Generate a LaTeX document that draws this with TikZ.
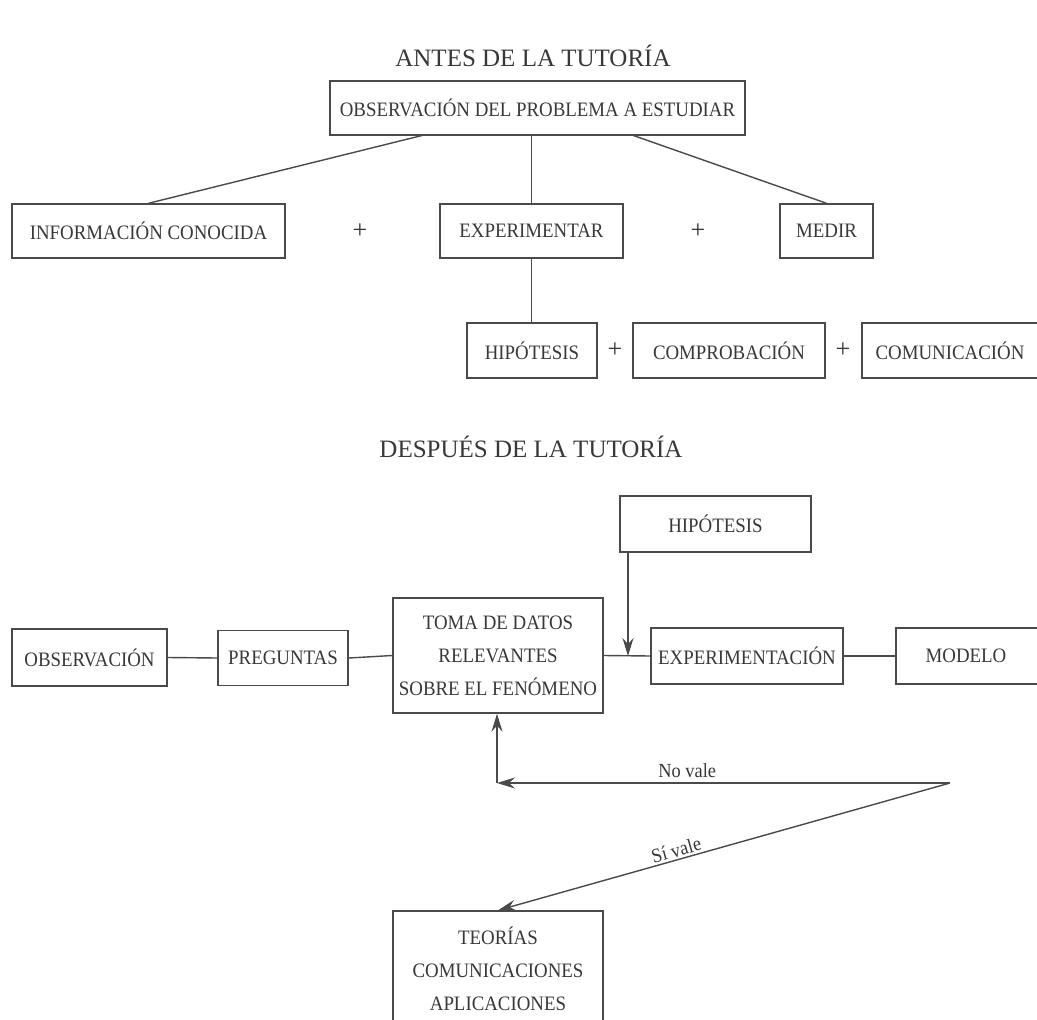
\documentclass[tikz,border=0pt]{standalone}
\usepackage{fontspec}
\setmainfont{Liberation Serif}
\newfontfamily\bxfont{Liberation Serif}[FakeStretch=0.92]
\usetikzlibrary{arrows.meta}
\definecolor{ink}{HTML}{383838}
\definecolor{lin}{HTML}{4A4A4A}
\begin{document}
\begin{tikzpicture}[x=1pt,y=-1pt,
  box/.style={draw=lin, line width=1.4pt, text=ink, inner sep=0pt,
    font=\bxfont\fontsize{20.5}{33}\selectfont, align=center},
  ttl/.style={text=ink, font=\fontsize{25}{30}\selectfont, inner sep=0pt},
  plus/.style={text=ink, font=\fontsize{26}{30}\selectfont, inner sep=0pt},
  lbl/.style={text=ink, font=\bxfont\fontsize{20}{24}\selectfont, inner sep=2pt},
  conn/.style={draw=lin, line width=1.4pt},
  arr/.style={draw=lin, line width=1.4pt,
    -{Stealth[length=18pt,width=11pt,inset=6pt,fill=lin]}}]
\useasboundingbox (0,0) rectangle (1037,1020);
\clip (0,0) rectangle (1037,1020);
\fill[white] (0,0) rectangle (1037,1020);

% ---------- ANTES ----------
\node[ttl] (t1) at (533,56) {ANTES DE LA TUTORÍA};
\node[box, minimum width=415pt, minimum height=54pt] (obs) at (537.5,108) {OBSERVACIÓN DEL PROBLEMA A ESTUDIAR};
\node[box, minimum width=273pt, minimum height=54pt] (info) at (148.5,231) {INFORMACIÓN CONOCIDA};
\node[plus] (p1) at (360,231) {+};
\node[box, minimum width=183pt, minimum height=54pt] (exp) at (531.5,231) {EXPERIMENTAR};
\node[plus] (p2) at (698,231) {+};
\node[box, minimum width=93pt, minimum height=54pt] (medir) at (826.5,231) {MEDIR};

\node[box, minimum width=130pt, minimum height=55pt] (hip1) at (532,350.5) {HIPÓTESIS};
\node[plus] (p3) at (615,350) {+};
\node[box, minimum width=192pt, minimum height=55pt] (comp) at (729,350.5) {COMPROBACIÓN};
\node[plus] (p4) at (843,350) {+};
\node[box, minimum width=190pt, minimum height=55pt] (comu) at (957,350.5) {\hspace*{-14pt}COMUNICACIÓN};

\coordinate (oL) at (424,135);
\coordinate (oR) at (632,135);
\draw[conn] (oL) -- (info.north);
\draw[conn] (oR) -- (medir.north);
\draw[conn] (exp.north) -- (exp.north |- obs.south);
\draw[conn] (exp.south) -- (exp.south |- hip1.north);

% ---------- DESPUES ----------
\node[ttl] (t2) at (531,447) {DESPUÉS DE LA TUTORÍA};
\node[box, minimum width=191pt, minimum height=56pt] (hip2) at (715.5,524) {HIPÓTESIS};
\node[box, minimum width=155pt, minimum height=57pt] (obsv) at (89.5,657.5) {OBSERVACIÓN};
\node[box, minimum width=130pt, minimum height=55pt] (preg) at (283,658) {PREGUNTAS};
\node[box, minimum width=210pt, minimum height=115pt] (toma) at (498,655.5) {TOMA DE DATOS\\RELEVANTES\\SOBRE EL FENÓMENO};
\node[box, minimum width=192pt, minimum height=56pt] (expn) at (747,656) {EXPERIMENTACIÓN};
\node[box, minimum width=152pt, minimum height=56pt] (modelo) at (972,656) {\hspace*{-12pt}MODELO};
\node[box, minimum width=210pt, minimum height=115pt] (teo) at (498,968.5) {TEORÍAS\\COMUNICACIONES\\APLICACIONES};

\draw[conn] (obsv.east) -- (preg.west);
\draw[conn] (preg.east) -- (toma.west);
\draw[conn] (toma.east) -- (expn.west);
\draw[conn] (expn.east) -- (modelo.west);

\coordinate (j) at (628,656);
\draw[arr] (hip2.south -| j) -- (j);

\coordinate (r) at (950,783);
\coordinate (c) at (497,783);
\draw[arr] (r) -- (c) node[lbl, pos=0.58, above=3pt] {No vale};
\draw[arr] (c) -- (c |- toma.south);
\draw[arr] (r) -- (teo.north) node[lbl, pos=0.6, sloped, above=0pt] {Sí vale};
\end{tikzpicture}
\end{document}
